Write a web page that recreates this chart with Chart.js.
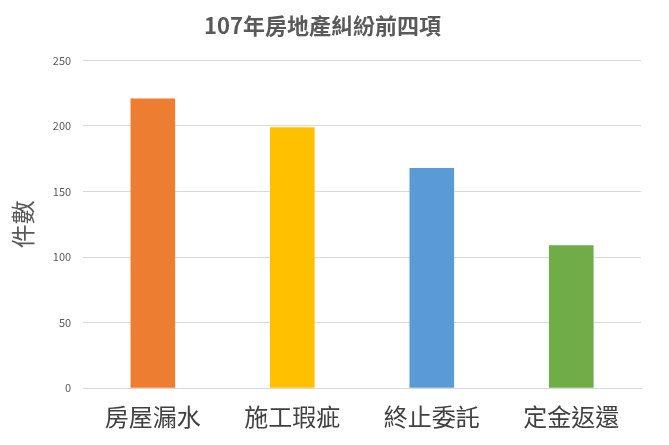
<!DOCTYPE html>
<html><head><meta charset="utf-8">
<script src="https://cdn.jsdelivr.net/npm/chart.js@4"></script>
<style>html,body{margin:0;padding:0;background:#fff}#w{width:669px;height:445px}</style>
</head><body><div id="w"><canvas id="c"></canvas></div>
<script>
const categories = ["房屋漏水","施工瑕疵","終止委託","定金返還"];
const values = [221, 199, 168, 109];
const colors = ["#ED7D31","#FFC000","#5B9BD5","#70AD47"];
const title = "107年房地產糾紛前四項";
const yTitle = "件數";
const F = "'Noto Sans CJK TC','Noto Sans',sans-serif";
new Chart(document.getElementById('c'), {
  type: 'bar',
  data: { labels: categories, datasets: [{ data: values, backgroundColor: colors, barPercentage: 0.32, categoryPercentage: 1 }] },
  options: {
    responsive: true, maintainAspectRatio: false, animation: false,
    layout: { padding: { left: 4, right: 28, top: 8, bottom: 8 } },
    plugins: { legend: { display: false }, tooltip: { enabled: false },
      title: { display: true, text: title, color: '#595959', font: { family: F, size: 22, weight: 'bold' }, padding: { top: 4, bottom: 22 } } },
    scales: {
      y: { min: 0, max: 250, ticks: { stepSize: 50, color: '#595959', font: { family: F, size: 11 }, padding: 12 },
        grid: { color: '#D9D9D9', drawTicks: false }, border: { display: false },
        title: { display: true, text: yTitle, color: '#595959', font: { family: F, size: 24 } } },
      x: { ticks: { color: '#404040', font: { family: F, size: 24 }, padding: 6 },
        grid: { display: false }, border: { color: '#D9D9D9' } }
    }
  }
});
</script></body></html>
